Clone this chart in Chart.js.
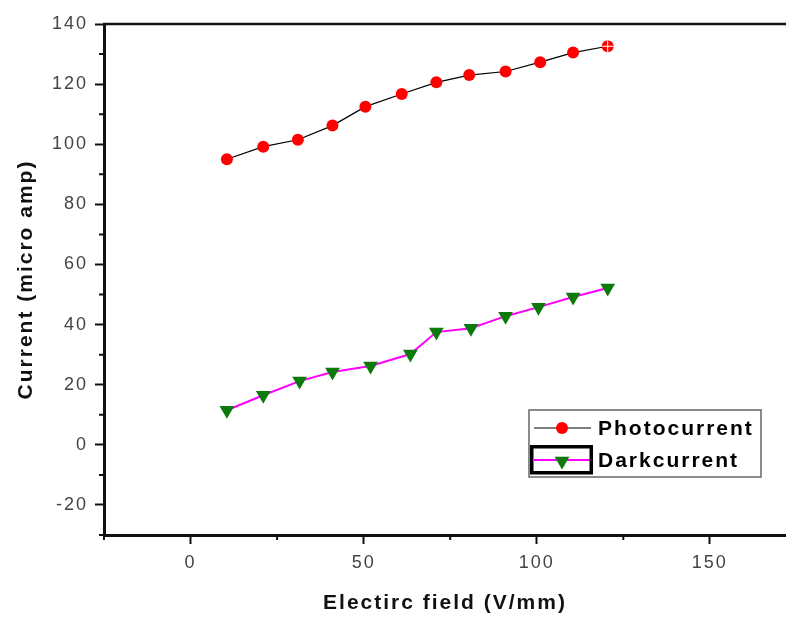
<!DOCTYPE html>
<html><head><meta charset="utf-8">
<script src="https://cdn.jsdelivr.net/npm/chart.js@4"></script>
<style>html,body{margin:0;padding:0;background:#fff}</style>
</head><body>
<canvas id="c" width="786" height="617"></canvas>
<script>
// ---- data ----
const photoX = [10.5, 21, 31, 41, 50.5, 61, 71, 80.5, 91, 101, 110.5, 120.5];
const photoY = [95, 99.2, 101.5, 106.2, 112.5, 116.7, 120.6, 123, 124.2, 127.3, 130.5, 132.6];
const darkX  = [10.5, 21, 31.5, 41, 52, 63.5, 71, 81, 91, 100.5, 110.5, 120.5];
const darkY  = [11.5, 16.5, 21.2, 24.2, 26.2, 30.2, 37.5, 38.8, 42.8, 45.8, 49.2, 52.2];
const seriesLabels = ['Photocurrent', 'Darkcurrent'];
const xMajorTicks = [0, 50, 100, 150];
const xMinorTicks = [-25, 25, 75, 125];
const yMajorTicks = [-20, 0, 20, 40, 60, 80, 100, 120, 140];
const yMinorTicks = [-30, -10, 10, 30, 50, 70, 90, 110, 130];
const xTitle = 'Electirc field (V/mm)';
const yTitle = 'Current (micro amp)';

const toPts = (xs, ys) => xs.map((x, i) => ({x, y: ys[i]}));

const FONT = '"Liberation Sans", Arial, sans-serif';

const spacingPlugin = {
  id: 'spacing',
  beforeDraw(chart) { chart.ctx.letterSpacing = '2px'; }
};

const decorPlugin = {
  id: 'decor',
  afterDatasetsDraw(chart) {
    // white cross on last photocurrent marker
    const ctx = chart.ctx;
    const meta = chart.getDatasetMeta(0);
    const el = meta.data[meta.data.length - 1];
    ctx.save();
    ctx.strokeStyle = '#fff';
    ctx.lineWidth = 1;
    ctx.beginPath();
    ctx.moveTo(el.x - 6, el.y); ctx.lineTo(el.x + 6, el.y);
    ctx.moveTo(el.x, el.y - 6); ctx.lineTo(el.x, el.y + 6);
    ctx.stroke();
    ctx.restore();
  },
  afterDraw(chart) {
    const ctx = chart.ctx;
    const xs = chart.scales.x, ys = chart.scales.y;
    const a = chart.chartArea;
    ctx.save();
    ctx.strokeStyle = '#111';
    // top border line
    ctx.lineWidth = 2.5;
    ctx.beginPath();
    ctx.moveTo(a.left - 1, a.top); ctx.lineTo(chart.width, a.top);
    ctx.stroke();
    // minor ticks
    ctx.lineWidth = 2;
    ctx.beginPath();
    xMinorTicks.forEach(v => {
      const p = xs.getPixelForValue(v);
      ctx.moveTo(p, a.bottom); ctx.lineTo(p, a.bottom + 5);
    });
    yMinorTicks.forEach(v => {
      const p = ys.getPixelForValue(v);
      ctx.moveTo(a.left - 5, p); ctx.lineTo(a.left, p);
    });
    ctx.stroke();

    // legend
    ctx.letterSpacing = '2px';
    const bx = 529, by = 410, bw = 232, bh = 67;
    ctx.lineWidth = 1.5;
    ctx.strokeStyle = '#666';
    ctx.strokeRect(bx, by, bw, bh);
    const rows = [428, 460];
    chart.data.datasets.forEach((ds, i) => {
      const y = rows[i];
      ctx.strokeStyle = ds.borderColor;
      ctx.lineWidth = ds.borderWidth;
      ctx.beginPath();
      ctx.moveTo(534, y); ctx.lineTo(591, y);
      ctx.stroke();
      ctx.fillStyle = ds.pointBackgroundColor;
      const cx = 562;
      if (ds.pointStyle === 'circle') {
        ctx.beginPath();
        ctx.arc(cx, y, ds.pointRadius, 0, Math.PI * 2);
        ctx.fill();
      } else {
        const r = ds.pointRadius, cy = y + 1;
        ctx.beginPath();
        ctx.moveTo(cx, cy + r);
        ctx.lineTo(cx - r * Math.sqrt(3) / 2, cy - r / 2);
        ctx.lineTo(cx + r * Math.sqrt(3) / 2, cy - r / 2);
        ctx.closePath();
        ctx.fill();
      }
      ctx.fillStyle = '#000';
      ctx.font = 'bold 21px ' + FONT;
      ctx.textAlign = 'left';
      ctx.textBaseline = 'middle';
      ctx.fillText(ds.label, 598, y + 1);
    });
    // thick black frame around second sample
    ctx.strokeStyle = '#000';
    ctx.lineWidth = 3.5;
    ctx.strokeRect(531.75, 446.75, 59.5, 26);
    ctx.restore();
  }
};

new Chart(document.getElementById('c'), {
  type: 'scatter',
  data: {
    datasets: [
      {
        label: seriesLabels[0],
        data: toPts(photoX, photoY),
        showLine: true,
        borderColor: '#000',
        borderWidth: 1.2,
        pointStyle: 'circle',
        pointRadius: 6,
        pointBackgroundColor: '#ff0000',
        pointBorderColor: '#ff0000',
        pointBorderWidth: 0,
        tension: 0
      },
      {
        label: seriesLabels[1],
        data: toPts(darkX, darkY),
        showLine: true,
        borderColor: '#ff00ff',
        borderWidth: 2,
        pointStyle: 'triangle',
        pointRotation: 180,
        pointRadius: 8.5,
        pointBackgroundColor: '#0b7a0b',
        pointBorderColor: '#0b7a0b',
        pointBorderWidth: 0,
        tension: 0
      }
    ]
  },
  options: {
    responsive: false,
    animation: false,
    events: [],
    layout: { autoPadding: false, padding: { top: 24, right: 0, bottom: 0, left: 0 } },
    plugins: { legend: { display: false }, tooltip: { enabled: false } },
    scales: {
      x: {
        type: 'linear',
        min: -25, max: 172,
        afterBuildTicks: s => { s.ticks = xMajorTicks.map(v => ({value: v})); },
        afterFit: s => { s.height = 82; s.paddingRight = 0; s.paddingLeft = 0; },
        grid: { drawOnChartArea: false, drawTicks: true, tickLength: 9, tickWidth: 2, tickColor: '#111' },
        border: { display: true, width: 3, color: '#111' },
        ticks: { color: '#444', font: { family: FONT, size: 18 }, padding: 8, maxRotation: 0 },
        title: { display: true, text: xTitle, color: '#111', font: { family: FONT, size: 21, weight: 'bold' }, padding: { top: 0, bottom: 1 } }
      },
      y: {
        type: 'linear',
        min: -30, max: 140,
        afterBuildTicks: s => { s.ticks = yMajorTicks.map(v => ({value: v})); },
        afterFit: s => { s.width = 104; s.paddingTop = 0; s.paddingBottom = 0; },
        grid: { drawOnChartArea: false, drawTicks: true, tickLength: 9, tickWidth: 2, tickColor: '#111' },
        border: { display: true, width: 3, color: '#111' },
        ticks: { color: '#444', font: { family: FONT, size: 18 }, padding: 7 },
        title: { display: true, text: yTitle, color: '#111', font: { family: FONT, size: 21, weight: 'bold' }, padding: { top: 14, bottom: 0 } }
      }
    }
  },
  plugins: [spacingPlugin, decorPlugin]
});
</script>
</body></html>
